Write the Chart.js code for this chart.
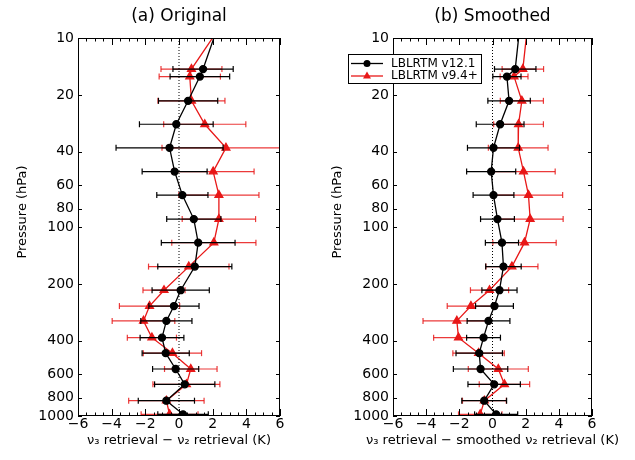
<!DOCTYPE html>
<html>
<head>
<meta charset="utf-8">
<script src="https://cdn.jsdelivr.net/npm/chart.js@4.4.1/dist/chart.umd.min.js"></script>
<style>
  body { margin: 0; background: #fff; }
  #wrap { position: relative; width: 635px; height: 460px; }
  canvas { position: absolute; top: 0; }
</style>
</head>
<body>
<div id="wrap">
  <canvas id="chartA" width="318" height="460" style="left:0px"></canvas>
  <canvas id="chartB" width="320" height="460" style="left:315px"></canvas>
</div>
<script>
// pressure levels (hPa); the first one sits just above the plot top and gets clipped
const LEVELS = [9, 14.6, 16.0, 21.5, 28.6, 38.1, 50.9, 67.8, 90.8, 121, 162, 216, 262, 314, 385, 465, 564, 680, 830, 980];

// (a) original
const A_V12 = [2.25, 1.43, 1.24, 0.54, -0.16, -0.56, -0.26, 0.2, 0.88, 1.14, 0.94, 0.1, -0.3, -0.75, -1.01, -0.79, -0.2, 0.34, -0.75, 0.24];
const A_V12_ERR = [1.8, 1.79, 1.77, 1.76, 2.19, 3.18, 1.93, 1.52, 1.61, 2.19, 2.2, 1.7, 1.49, 1.52, 1.3, 1.4, 1.37, 1.79, 1.67, 1.5];
const A_V94 = [2.34, 0.74, 0.64, 0.74, 1.53, 2.79, 2.03, 2.37, 2.37, 2.07, 0.58, -0.89, -1.75, -2.11, -1.61, -0.39, 0.7, 0.44, -0.75, -0.56];
const A_V94_ERR = [1.8, 1.81, 1.82, 1.99, 2.44, 3.8, 2.43, 2.38, 2.18, 2.5, 2.39, 1.25, 1.79, 1.86, 1.46, 1.73, 1.56, 1.99, 2.24, 1.69];

// (b) smoothed
const B_V12 = [1.63, 1.37, 0.87, 1.0, 0.46, 0.06, -0.08, 0.06, 0.3, 0.57, 0.66, 0.42, 0.12, -0.24, -0.54, -0.8, -0.72, 0.1, -0.5, 0.22];
const B_V12_ERR = [1.25, 1.25, 0.85, 1.28, 1.44, 1.57, 1.48, 1.23, 1.02, 1.0, 1.07, 1.06, 1.14, 1.29, 1.02, 1.4, 1.64, 1.58, 1.35, 1.3];
const B_V94 = [2.09, 1.83, 1.3, 1.77, 1.57, 1.55, 1.87, 2.17, 2.27, 1.93, 1.17, -0.18, -1.3, -2.15, -2.05, -0.84, 0.35, 0.72, -0.49, -0.74];
const B_V94_ERR = [1.25, 1.25, 0.84, 1.3, 1.5, 1.8, 1.91, 2.06, 1.99, 1.91, 1.57, 1.15, 1.43, 2.04, 1.5, 1.55, 1.81, 1.52, 1.32, 1.31];

const Y_TICKS = [10, 20, 40, 60, 80, 100, 200, 400, 600, 800, 1000];
const X_MIN = -6, X_MAX = 6;

const FONT = "'DejaVu Sans', sans-serif";
const RED = "rgb(232,24,24)";
const RED_ERR = "rgba(232,24,24,0.85)";

function profile(vals) {
    return vals.map((v, i) => ({ x: v, y: LEVELS[i] }));
}

// each bar is two points, then a null x to break the line
function errorBars(vals, errs) {
    const out = [];
    vals.forEach((v, i) => {
        out.push({ x: v - errs[i], y: LEVELS[i] });
        out.push({ x: v + errs[i], y: LEVELS[i] });
        out.push({ x: null, y: LEVELS[i] });
    });
    return out;
}

const decorPlugin = {
    id: "decor",
    afterDraw(chart, args, opts) {
        const { ctx, chartArea: a } = chart;
        const x = chart.scales.x, y = chart.scales.y;
        ctx.save();
        ctx.strokeStyle = "#000";
        ctx.lineWidth = 1;
        ctx.strokeRect(a.left + 0.5, a.top + 0.5, a.right - a.left - 1, a.bottom - a.top - 1);

        ctx.beginPath();
        for (let v = X_MIN; v <= X_MAX + 1e-9; v += 0.5) {
            const px = Math.round(x.getPixelForValue(v)) + 0.5;
            const len = Math.abs(v % 2) < 1e-9 ? 7 : 3.5;
            ctx.moveTo(px, a.bottom); ctx.lineTo(px, a.bottom - len);
            ctx.moveTo(px, a.top); ctx.lineTo(px, a.top + len);
        }
        Y_TICKS.forEach(v => {
            const py = Math.round(y.getPixelForValue(v)) + 0.5;
            ctx.moveTo(a.left, py); ctx.lineTo(a.left + 4, py);
            ctx.moveTo(a.right, py); ctx.lineTo(a.right - 4, py);
        });
        ctx.stroke();

        const cx = (a.left + a.right) / 2;
        ctx.fillStyle = "#000";
        ctx.textAlign = "center";
        ctx.textBaseline = "middle";
        ctx.font = `17px ${FONT}`;
        ctx.fillText(opts.title, cx, 17);
        ctx.font = `13px ${FONT}`;
        ctx.fillText(opts.xTitle, cx, 441);

        ctx.save();
        ctx.translate(opts.yTitleX, 212);
        ctx.rotate(-Math.PI / 2);
        ctx.fillText("Pressure (hPa)", 0, 0);
        ctx.restore();

        if (opts.legend) {
            const lx = opts.legendX, ly = 54;
            ctx.fillStyle = "#fff";
            ctx.fillRect(lx, ly, 134, 30);
            ctx.strokeStyle = "#000";
            ctx.lineWidth = 1;
            ctx.strokeRect(lx + 0.5, ly + 0.5, 133, 29);
            ctx.font = `12px ${FONT}`;
            ctx.textAlign = "left";
            const rows = [
                { label: "LBLRTM v12.1", color: "#000", tri: false, yy: ly + 9.5 },
                { label: "LBLRTM v9.4+", color: RED, tri: true, yy: ly + 22 },
            ];
            rows.forEach(r => {
                ctx.strokeStyle = r.color;
                ctx.fillStyle = r.color;
                ctx.lineWidth = 1.3;
                ctx.beginPath();
                ctx.moveTo(lx + 3, r.yy); ctx.lineTo(lx + 35, r.yy);
                ctx.stroke();
                const mx = lx + 19;
                ctx.beginPath();
                if (r.tri) {
                    ctx.moveTo(mx, r.yy - 4.5); ctx.lineTo(mx + 4, r.yy + 2.5); ctx.lineTo(mx - 4, r.yy + 2.5);
                    ctx.closePath();
                } else {
                    ctx.arc(mx, r.yy, 3.5, 0, Math.PI * 2);
                }
                ctx.fill();
                ctx.fillStyle = "#000";
                ctx.fillText(r.label, lx + 43, r.yy);
            });
        }
        ctx.restore();
    },
};

function makePanel(canvasId, v12, v12Err, v94, v94Err, decor, padRight) {
    const ctx = document.getElementById(canvasId).getContext("2d");
    return new Chart(ctx, {
        type: "line",
        data: {
            datasets: [
                {
                    data: [{ x: 0, y: 10 }, { x: 0, y: 1000 }],
                    borderColor: "#000", borderWidth: 1, borderDash: [1, 2], pointRadius: 0,
                },
                {
                    data: errorBars(v12, v12Err),
                    borderColor: "#000", borderWidth: 1.2,
                    pointStyle: "line", rotation: 90, pointRadius: 3,
                    pointBorderColor: "#000", pointBorderWidth: 1.2,
                },
                {
                    data: profile(v12),
                    borderColor: "#000", borderWidth: 1.3,
                    pointStyle: "circle", pointRadius: 3.5,
                    pointBackgroundColor: "#000", pointBorderColor: "#000",
                },
                {
                    data: errorBars(v94, v94Err),
                    borderColor: RED_ERR, borderWidth: 1.2,
                    pointStyle: "line", rotation: 90, pointRadius: 3,
                    pointBorderColor: RED_ERR, pointBorderWidth: 1.2,
                },
                {
                    data: profile(v94),
                    borderColor: RED, borderWidth: 1.3,
                    pointStyle: "triangle", pointRadius: 4.5,
                    pointBackgroundColor: RED, pointBorderColor: RED,
                },
            ],
        },
        options: {
            responsive: false,
            animation: false,
            layout: { padding: { top: 38, right: padRight, left: 0, bottom: 0 } },
            elements: { line: { tension: 0 } },
            datasets: { line: { clip: 0, spanGaps: false } },
            plugins: {
                legend: { display: false },
                tooltip: { enabled: false },
                decor: decor,
            },
            scales: {
                x: {
                    type: "linear",
                    min: X_MIN, max: X_MAX,
                    grid: { display: false, drawTicks: false },
                    border: { display: false },
                    ticks: {
                        stepSize: 2, padding: 0, color: "#000",
                        font: { family: FONT, size: 14 },
                        callback: v => (v < 0 ? "\u2212" + Math.abs(v) : String(v)),
                    },
                    afterFit: s => { s.height = 44; },
                },
                y: {
                    type: "logarithmic",
                    reverse: true,
                    min: 10, max: 1000,
                    grid: { display: false, drawTicks: false },
                    border: { display: false },
                    afterBuildTicks: s => { s.ticks = Y_TICKS.map(v => ({ value: v })); },
                    ticks: {
                        autoSkip: false, padding: 4, color: "#000",
                        font: { family: FONT, size: 14 },
                        callback: v => String(v),
                    },
                    afterFit: s => { s.width = 78; },
                },
            },
        },
        plugins: [decorPlugin],
    });
}

makePanel("chartA", A_V12, A_V12_ERR, A_V94, A_V94_ERR, {
    title: "(a) Original",
    xTitle: "\u03bd\u2083 retrieval \u2212 \u03bd\u2082 retrieval (K)",
    yTitleX: 23,
    legend: false,
}, 38);

makePanel("chartB", B_V12, B_V12_ERR, B_V94, B_V94_ERR, {
    title: "(b) Smoothed",
    xTitle: "\u03bd\u2083 retrieval \u2212 smoothed \u03bd\u2082 retrieval (K)",
    yTitleX: 23,
    legend: true,
    legendX: 33,
}, 43);
</script>
</body>
</html>
